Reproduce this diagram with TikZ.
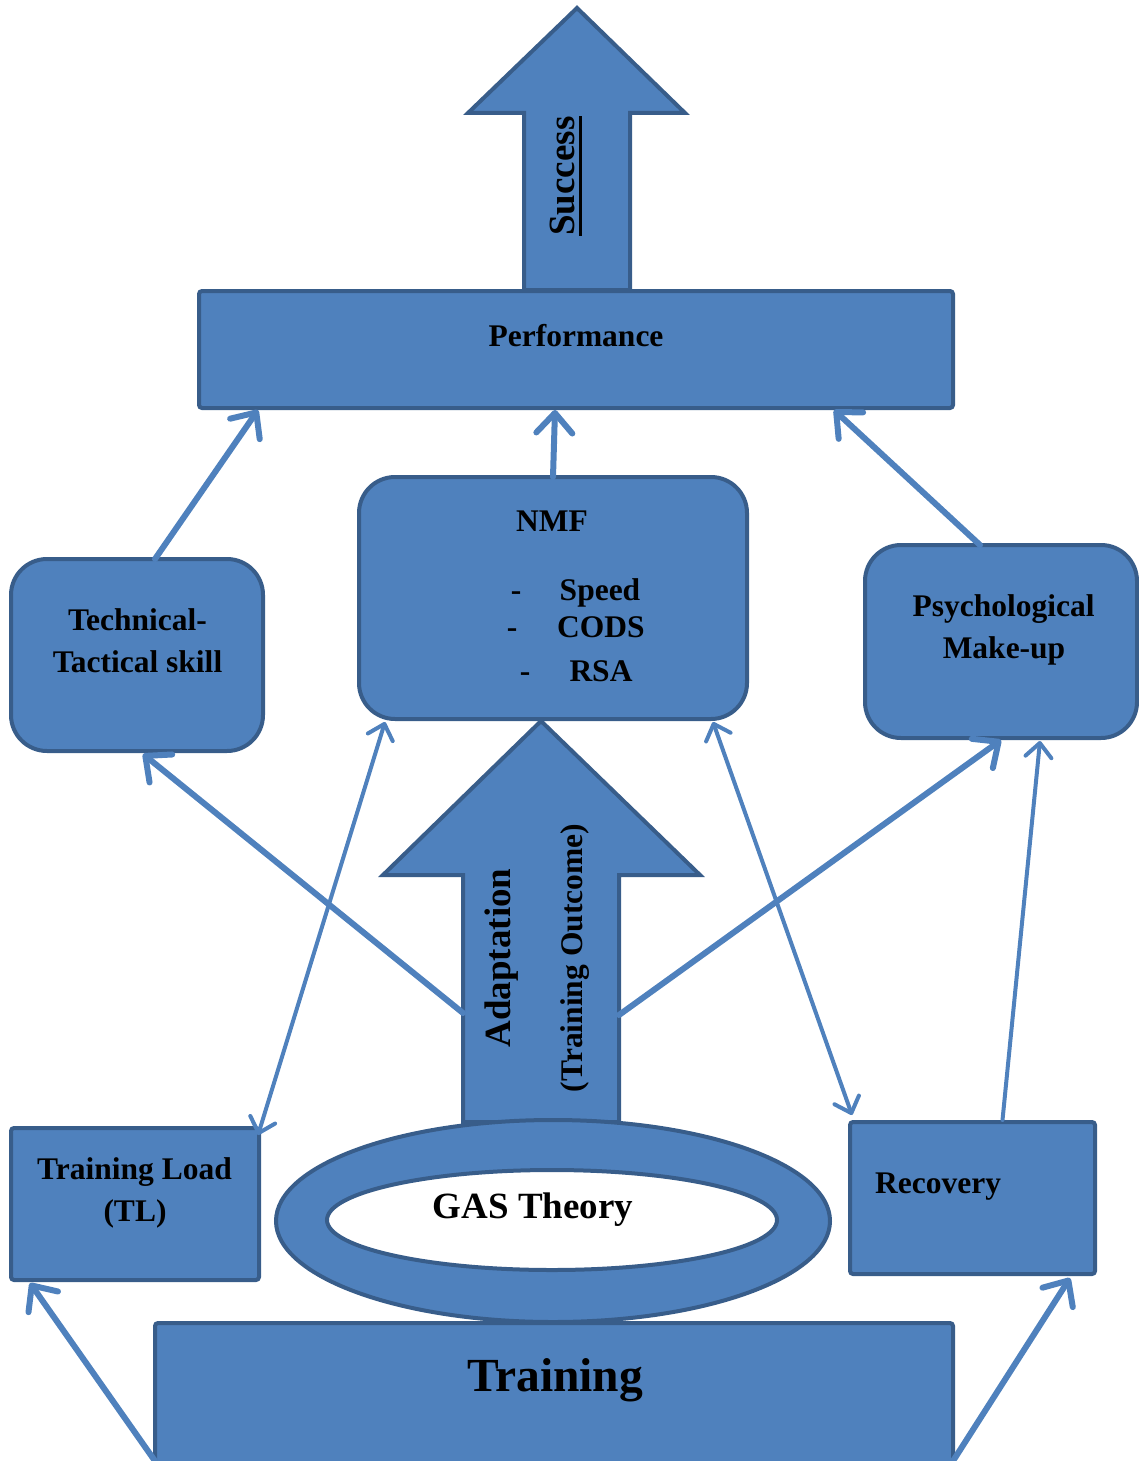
\documentclass[tikz,border=0pt]{standalone}
\usepackage{fontspec}
\setmainfont{Liberation Serif}
\usetikzlibrary{arrows.meta,calc,shapes.geometric}
\definecolor{fillblue}{HTML}{4F81BD}
\definecolor{edgeblue}{HTML}{385D8A}
\definecolor{lineblue}{HTML}{4F81BD}
\newcommand\myuline[1]{\setbox0\hbox{#1}\rlap{\rule[-8pt]{\wd0}{3pt}}\box0}
\begin{document}
\begin{tikzpicture}[x=1pt,y=-1pt,
  boxbase/.style={draw=edgeblue, fill=fillblue, line width=4pt, inner sep=0pt, outer sep=0pt},
  sbox/.style={boxbase, rectangle, rounded corners=3pt},
  rbox/.style={boxbase, rectangle, rounded corners=36pt},
  bigarrow/.style={draw=edgeblue, fill=fillblue, line width=4pt, line join=miter},
  txt/.style={font=\bfseries\fontsize{31.5}{38}\selectfont, inner sep=0pt, anchor=base},
  bigtxt/.style={font=\bfseries\fontsize{37}{44}\selectfont, inner sep=0pt, anchor=base},
  thickarrow/.style={draw=lineblue, line width=6pt, line cap=round, -{Straight Barb[length=20pt,width=36pt,round]}},
  thinarrow/.style={draw=lineblue, line width=4pt, line cap=round, -{Straight Barb[length=14pt,width=26pt,round]}},
  twoway/.style={draw=lineblue, line width=4pt, line cap=round, {Straight Barb[length=14pt,width=26pt,round]}-{Straight Barb[length=14pt,width=26pt,round]}}
]
\useasboundingbox (0,0) rectangle (1138,1461);

% Performance and Success arrow
\node[sbox, minimum width=754pt, minimum height=117pt] (perf) at (576,349.5) {};
\draw[bigarrow] (524,290) -- (524,113) -- (468,113) -- (577,8) -- (685,113) -- (630,113) -- (630,290) -- cycle;
\node[bigtxt, rotate=90] (successT) at (574,176) {\myuline{Success}};
\node[txt] (perfT) at (576,346) {Performance};

% Middle boxes
\node[rbox, minimum width=388pt, minimum height=242pt] (nmf) at (553,598) {};
\node[txt] (nmfT) at (552,531) {NMF};
\node[txt] (d1) at (516,600) {-};
\node[txt] (speedT) at (600,600) {Speed};
\node[txt] (d2) at (512,637) {-};
\node[txt] (codsT) at (601,637) {CODS};
\node[txt] (d3) at (525,681) {-};
\node[txt] (rsaT) at (601,681) {RSA};

\node[rbox, minimum width=252pt, minimum height=192pt] (tech) at (137,655) {};
\node[txt] (techT1) at (137.5,630) {Technical-};
\node[txt] (techT2) at (137.5,672) {Tactical skill};

\node[rbox, minimum width=272pt, minimum height=193pt] (psych) at (1001,641.5) {};
\node[txt] (psyT1) at (1003.5,616) {Psychological};
\node[txt] (psyT2) at (1004,658) {Make-up};

% Adaptation arrow
\draw[bigarrow] (463,1122) -- (463,875) -- (383,875) -- (541,721) -- (700,875) -- (619,875) -- (619,1122) -- cycle;
\coordinate (adL) at (463,1013);
\coordinate (adR) at (619,1015);
\node[bigtxt, rotate=90] (adaptT) at (510,958) {Adaptation};
\node[txt, rotate=90] (outcomeT) at (582,958) {(Training Outcome)};

% GAS ellipse
\node[ellipse, draw=edgeblue, fill=fillblue, line width=4pt, inner sep=0pt, outer sep=0pt,
      minimum width=554pt, minimum height=202pt] (gasout) at (553,1221) {};
\node[ellipse, draw=edgeblue, fill=white, line width=4pt, inner sep=0pt, outer sep=0pt,
      minimum width=450pt, minimum height=100pt] (gasin) at (552,1220) {};
\node[bigtxt] (gasT) at (533,1218) {GAS Theory};

% Bottom boxes
\node[sbox, minimum width=248pt, minimum height=152pt] (tl) at (135,1204) {};
\node[txt] (tlT1) at (134.5,1179) {Training Load};
\node[txt] (tlT2) at (135,1221) {(TL)};

\node[sbox, minimum width=245pt, minimum height=152pt] (rec) at (972.5,1198) {};
\node[txt, anchor=base west] (recT) at (875,1193) {Recovery};

\node[sbox, anchor=north west, minimum width=798pt, minimum height=160pt] (trn) at (155,1323) {};
\node[font=\bfseries\fontsize{47.5}{56}\selectfont, inner sep=0pt, anchor=base] (trnT) at (555,1391) {Training};

% Connectors
\draw[thickarrow] ($(tech.north)+(18,0)$) -- ($(perf.south)+(-318,2)$);
\draw[thickarrow] (nmf.north) -- ($(perf.south)+(-21,2)$);
\draw[thickarrow] ($(psych.north)+(-21,0)$) -- ($(perf.south)+(258,2)$);
\draw[thickarrow] (adL) -- ($(tech.south)+(6,3)$);
\draw[thickarrow] (adR) -- ($(psych.south)+(0,2)$);
\draw[twoway] ($(nmf.south)+(-168,3)$) -- ($(tl.north east)+(-1,7)$);
\draw[twoway] ($(nmf.south)+(160,3)$) -- ($(rec.north west)+(2,-7)$);
\draw[thinarrow] ($(rec.north)+(30,-2)$) -- ($(psych.south)+(39,3)$);
\draw[thickarrow] ($(trn.north west)+(0,138)$) -- ($(tl.south west)+(19,3)$);
\draw[thickarrow] ($(trn.north east)+(0,138)$) -- ($(rec.south east)+(-25,4)$);
\end{tikzpicture}
\end{document}
